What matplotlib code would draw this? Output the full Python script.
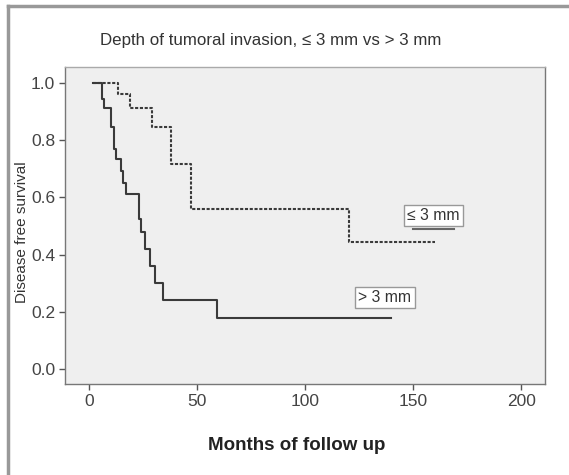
import matplotlib.pyplot as plt
from matplotlib.lines import Line2D

# Kaplan-Meier steps
gt3_times = [2, 5.9, 7.1, 10.2, 11.6, 12.5, 14.8, 15.9, 17.0, 23.1, 24.1, 26.2, 28.2, 30.4, 34.1, 59.3, 140]
gt3_surv = [1.0, 0.944, 0.911, 0.845, 0.770, 0.733, 0.693, 0.649, 0.612, 0.523, 0.480, 0.420, 0.360, 0.302, 0.241, 0.178, 0.178]

le3_times = [2, 13.6, 19.0, 29.2, 38.1, 47.1, 120.2, 160]
le3_surv = [1.0, 0.960, 0.911, 0.846, 0.716, 0.558, 0.445, 0.445]

x_ticks = [0, 50, 100, 150, 200]
y_ticks = [0.0, 0.2, 0.4, 0.6, 0.8, 1.0]

plt.rcParams['font.family'] = ['Liberation Sans', 'DejaVu Sans']

fig = plt.figure(figsize=(5.69, 4.75), dpi=100)
ax = fig.add_axes([65 / 569, 1 - 384 / 475, 480 / 569, 317 / 475])
ax.set_facecolor('#efefef')

ax.step(gt3_times, gt3_surv, where='post', color='#3a3a3a', lw=1.5)
ax.step(le3_times, le3_surv, where='post', color='#3a3a3a', lw=1.5, linestyle=(0, (1.5, 0.8)))

box = dict(boxstyle='square,pad=0.2', facecolor='white', edgecolor='#999999', lw=1)
ax.text(159.5, 0.537, '≤ 3 mm', ha='center', va='center', fontsize=11.3, color='#333333', bbox=box)
ax.text(137, 0.25, '> 3 mm', ha='center', va='center', fontsize=11.3, color='#333333', bbox=box)
ax.plot([150, 169], [0.49, 0.49], color='#666666', lw=1.5)

ax.set_xlim(-11, 211)
ax.set_ylim(-0.052, 1.056)
ax.set_xticks(x_ticks)
ax.set_yticks(y_ticks)
ax.set_yticklabels([f'{v:.1f}' for v in y_ticks])
ax.tick_params(labelsize=12.5, labelcolor='#444444', color='#555555', length=4, width=1, pad=3)
for s in ax.spines.values():
    s.set_color('#777777')
    s.set_linewidth(1)
ax.spines['top'].set_color('#aaaaaa')

fig.text(100 / 569, 1 - 41 / 475, 'Depth of tumoral invasion, ≤ 3 mm vs > 3 mm',
         ha='left', va='center', fontsize=12.2, color='#333333')
fig.text(208 / 569, 1 - 446 / 475, 'Months of follow up', ha='left', va='center',
         fontsize=13.5, fontweight='bold', color='#222222')
fig.text(22 / 569, 1 - 232 / 475, 'Disease free survival', ha='center', va='center',
         rotation=90, fontsize=11, color='#333333')

# frame around the figure (top and left edges)
fig.add_artist(Line2D([8 / 569, 1], [1 - 6 / 475, 1 - 6 / 475], color='#999999', lw=2.5))
fig.add_artist(Line2D([8 / 569, 8 / 569], [0, 1 - 6 / 475], color='#999999', lw=2.5))

fig.savefig('out.png', dpi=100)
